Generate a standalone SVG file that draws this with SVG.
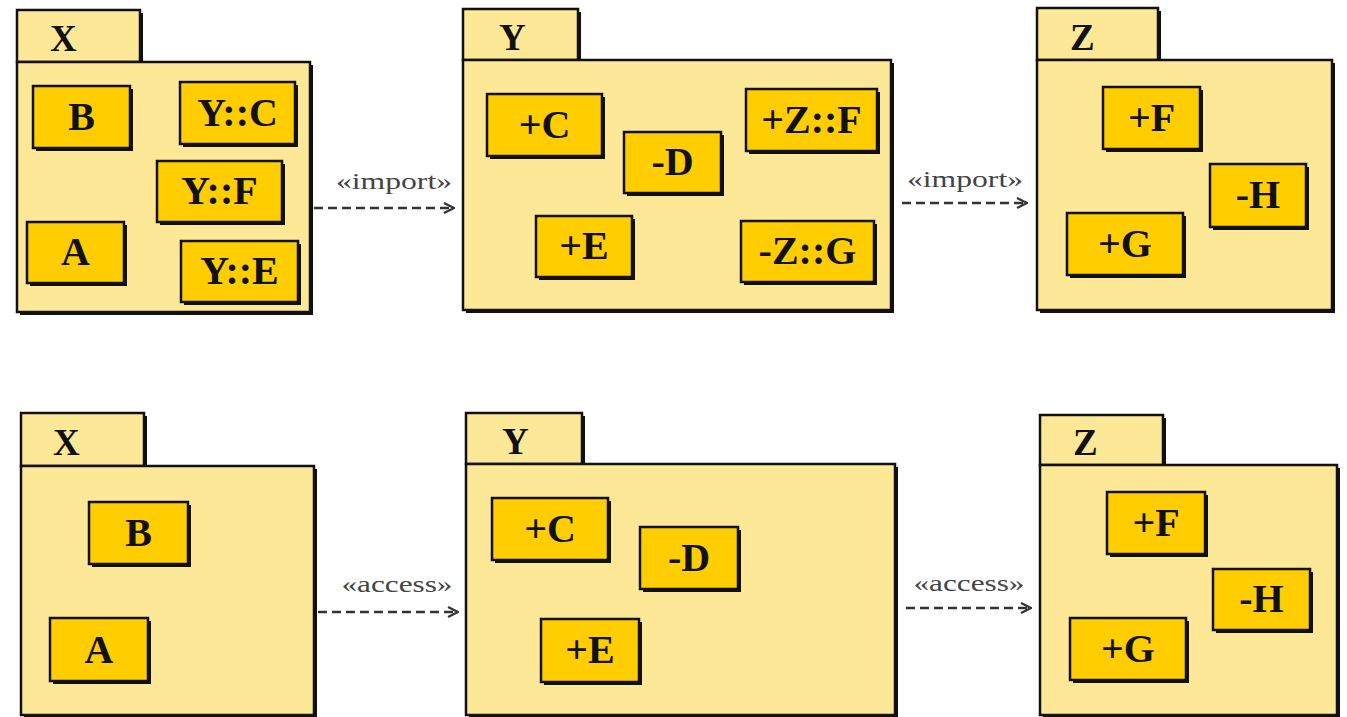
<svg xmlns="http://www.w3.org/2000/svg" width="1347" height="717" viewBox="0 0 1347 717">
<defs>
<style>
.sh{fill:#111;}
.pkg{fill:#FDE898;stroke:#111;stroke-width:2.5;}
.box{fill:#FFCD00;stroke:#111;stroke-width:2.5;}
.pl{font-family:"Liberation Serif","Times New Roman",serif;font-weight:bold;font-size:37px;fill:#111;}
.bl{font-family:"Liberation Serif","Times New Roman",serif;font-weight:bold;font-size:40px;fill:#111;text-anchor:middle;}
.cl{font-family:"Liberation Serif","Times New Roman",serif;font-size:24px;fill:#444;text-anchor:middle;}
.dep{fill:none;stroke:#333;stroke-width:2.5;stroke-dasharray:9 5;}
</style>
<marker id="open" viewBox="0 0 12 12" refX="11" refY="6" markerWidth="12" markerHeight="12" markerUnits="userSpaceOnUse" orient="auto">
<path d="M1,1 L11,6 L1,11" fill="none" stroke="#333" stroke-width="2.2"/>
</marker>
</defs>
<rect width="1347" height="717" fill="#fff"/>

<g id="top-X">
<rect class="sh" x="20" y="13" width="123" height="52"/>
<rect class="pkg" x="17" y="10" width="123" height="52"/>
<rect class="sh" x="20" y="65" width="293" height="250"/>
<rect class="pkg" x="17" y="62" width="293" height="250"/>
<text class="pl" x="50" y="51">X</text>
<g id="top-X-B"><rect class="sh" x="36" y="89" width="97" height="62"/><rect class="box" x="33" y="86" width="97" height="62"/><text class="bl" x="81.5" y="130">B</text></g>
<g id="top-X-YC"><rect class="sh" x="183" y="85" width="115" height="62"/><rect class="box" x="180" y="82" width="115" height="62"/><text class="bl" x="237.5" y="126">Y::C</text></g>
<g id="top-X-YF"><rect class="sh" x="160" y="164" width="125" height="61"/><rect class="box" x="157" y="161" width="125" height="61"/><text class="bl" x="219.5" y="204">Y::F</text></g>
<g id="top-X-A"><rect class="sh" x="30" y="225" width="97" height="61"/><rect class="box" x="27" y="222" width="97" height="61"/><text class="bl" x="75.5" y="265">A</text></g>
<g id="top-X-YE"><rect class="sh" x="184" y="244" width="117" height="61"/><rect class="box" x="181" y="241" width="117" height="61"/><text class="bl" x="239.5" y="284">Y::E</text></g>
</g>

<g id="top-Y">
<rect class="sh" x="466" y="12" width="115" height="51"/>
<rect class="pkg" x="463" y="9" width="115" height="51"/>
<rect class="sh" x="466" y="63" width="428" height="250"/>
<rect class="pkg" x="463" y="60" width="428" height="250"/>
<text class="pl" x="499" y="50">Y</text>
<g id="top-Y-C"><rect class="sh" x="490" y="97" width="115" height="62"/><rect class="box" x="487" y="94" width="115" height="62"/><text class="bl" x="544.5" y="138">+C</text></g>
<g id="top-Y-D"><rect class="sh" x="627" y="135" width="97" height="61"/><rect class="box" x="624" y="132" width="97" height="61"/><text class="bl" x="672.5" y="175">-D</text></g>
<g id="top-Y-ZF"><rect class="sh" x="749" y="92" width="131" height="62"/><rect class="box" x="746" y="89" width="131" height="62"/><text class="bl" x="811.5" y="133">+Z::F</text></g>
<g id="top-Y-E"><rect class="sh" x="539" y="219" width="96" height="61"/><rect class="box" x="536" y="216" width="96" height="61"/><text class="bl" x="584" y="259">+E</text></g>
<g id="top-Y-ZG"><rect class="sh" x="744" y="224" width="133" height="61"/><rect class="box" x="741" y="221" width="133" height="61"/><text class="bl" x="807.5" y="264">-Z::G</text></g>
</g>

<g id="top-Z">
<rect class="sh" x="1040" y="11" width="121" height="52"/>
<rect class="pkg" x="1037" y="8" width="121" height="52"/>
<rect class="sh" x="1040" y="63" width="295" height="250"/>
<rect class="pkg" x="1037" y="60" width="295" height="250"/>
<text class="pl" x="1070" y="50">Z</text>
<g id="top-Z-F"><rect class="sh" x="1106" y="90" width="97" height="62"/><rect class="box" x="1103" y="87" width="97" height="62"/><text class="bl" x="1151.5" y="131">+F</text></g>
<g id="top-Z-H"><rect class="sh" x="1213" y="167" width="96" height="63"/><rect class="box" x="1210" y="164" width="96" height="63"/><text class="bl" x="1258" y="208">-H</text></g>
<g id="top-Z-G"><rect class="sh" x="1070" y="216" width="116" height="62"/><rect class="box" x="1067" y="213" width="116" height="62"/><text class="bl" x="1125" y="257">+G</text></g>
</g>

<g id="bottom-X">
<rect class="sh" x="24" y="416" width="123" height="53"/>
<rect class="pkg" x="21" y="413" width="123" height="53"/>
<rect class="sh" x="24" y="469" width="293" height="252"/>
<rect class="pkg" x="21" y="466" width="293" height="249"/>
<text class="pl" x="53" y="455">X</text>
<g id="bottom-X-B"><rect class="sh" x="92" y="505" width="99" height="62"/><rect class="box" x="89" y="502" width="99" height="62"/><text class="bl" x="138.5" y="546">B</text></g>
<g id="bottom-X-A"><rect class="sh" x="53" y="621" width="98" height="63"/><rect class="box" x="50" y="618" width="98" height="63"/><text class="bl" x="99" y="663">A</text></g>
</g>

<g id="bottom-Y">
<rect class="sh" x="469" y="416" width="116" height="51"/>
<rect class="pkg" x="466" y="413" width="116" height="51"/>
<rect class="sh" x="469" y="467" width="429" height="254"/>
<rect class="pkg" x="466" y="464" width="429" height="251"/>
<text class="pl" x="502" y="454">Y</text>
<g id="bottom-Y-C"><rect class="sh" x="495" y="501" width="116" height="62"/><rect class="box" x="492" y="498" width="116" height="62"/><text class="bl" x="550" y="542">+C</text></g>
<g id="bottom-Y-D"><rect class="sh" x="643" y="530" width="98" height="62"/><rect class="box" x="640" y="527" width="98" height="62"/><text class="bl" x="689" y="571">-D</text></g>
<g id="bottom-Y-E"><rect class="sh" x="544" y="622" width="98" height="63"/><rect class="box" x="541" y="619" width="98" height="63"/><text class="bl" x="590" y="663">+E</text></g>
</g>

<g id="bottom-Z">
<rect class="sh" x="1043" y="418" width="123" height="50"/>
<rect class="pkg" x="1040" y="415" width="123" height="50"/>
<rect class="sh" x="1043" y="468" width="297" height="253"/>
<rect class="pkg" x="1040" y="465" width="297" height="250"/>
<text class="pl" x="1073" y="455">Z</text>
<g id="bottom-Z-F"><rect class="sh" x="1110" y="495" width="98" height="62"/><rect class="box" x="1107" y="492" width="98" height="62"/><text class="bl" x="1156" y="536">+F</text></g>
<g id="bottom-Z-H"><rect class="sh" x="1216" y="572" width="97" height="61"/><rect class="box" x="1213" y="569" width="97" height="61"/><text class="bl" x="1261.5" y="612">-H</text></g>
<g id="bottom-Z-G"><rect class="sh" x="1073" y="621" width="116" height="62"/><rect class="box" x="1070" y="618" width="116" height="62"/><text class="bl" x="1128" y="662">+G</text></g>
</g>

<g id="connectors">
<line class="dep" x1="314" y1="208" x2="454" y2="208" marker-end="url(#open)"/>
<text class="cl" x="394" y="189" textLength="116" lengthAdjust="spacingAndGlyphs">«import»</text>
<line class="dep" x1="902" y1="203" x2="1027" y2="203" marker-end="url(#open)"/>
<text class="cl" x="965" y="187" textLength="116" lengthAdjust="spacingAndGlyphs">«import»</text>
<line class="dep" x1="318" y1="612" x2="458" y2="612" marker-end="url(#open)"/>
<text class="cl" x="397" y="592" textLength="111" lengthAdjust="spacingAndGlyphs">«access»</text>
<line class="dep" x1="906" y1="608" x2="1031" y2="608" marker-end="url(#open)"/>
<text class="cl" x="969" y="591" textLength="111" lengthAdjust="spacingAndGlyphs">«access»</text>
</g>
</svg>
